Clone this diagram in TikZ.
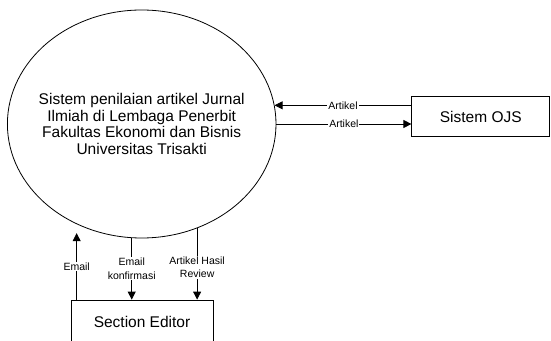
\documentclass[tikz,border=0pt]{standalone}
\usepackage{fontspec}
\setmainfont{Liberation Sans}
\usetikzlibrary{shapes.geometric,arrows.meta,calc}

\begin{document}
\begin{tikzpicture}[x=1pt,y=1pt,
	flow/.style={line width=0.8pt,-{Triangle[length=8pt,width=8pt]}},
	lbl/.style={fill=white,inner sep=1pt,align=center,font=\fontsize{10.5}{13.3}\selectfont},
	entity/.style={draw,line width=0.8pt,font=\fontsize{15.5}{18}\selectfont}]
	\useasboundingbox (0,0) rectangle (551,340);
	%PROCESS
	\node[draw,ellipse,line width=0.8pt,minimum width=268.6pt,minimum height=228pt,inner sep=0pt] (sys) at (141.7,216) {};
	\node[align=center,font=\fontsize{15.5}{16.5}\selectfont] (systxt) at (sys) {Sistem penilaian artikel Jurnal\\Ilmiah di Lembaga Penerbit\\Fakultas Ekonomi dan Bisnis\\Universitas Trisakti};
	%ENTITIES
	\node[entity,minimum width=138pt,minimum height=40pt] (ojs) at (480.8,223.3) {Sistem OJS};
	\node[entity,minimum width=142pt,minimum height=44pt] (se) at (142,18) {Section Editor};
	%FLOWS OJS
	\draw[flow] (sys.8.6 -| ojs.west) -- node[lbl]{Artikel} (sys.8.6);
	\draw[flow] (sys.0) -- node[lbl]{Artikel} (sys.0 -| ojs.west);
	%FLOWS SECTION EDITOR
	\coordinate (emtop) at ($(sys.237.4)+(0,-9)$);
	\draw[flow] (emtop |- se.north) -- node[lbl]{Email} (emtop);
	\draw[flow] (sys.265.8) -- node[lbl,pos=0.5]{Email\\konfirmasi} (sys.265.8 |- se.north);
	\draw[flow] (sys.298.4) -- node[lbl,pos=0.55]{Artikel Hasil\\Review} (sys.298.4 |- se.north);
\end{tikzpicture}
\end{document}
